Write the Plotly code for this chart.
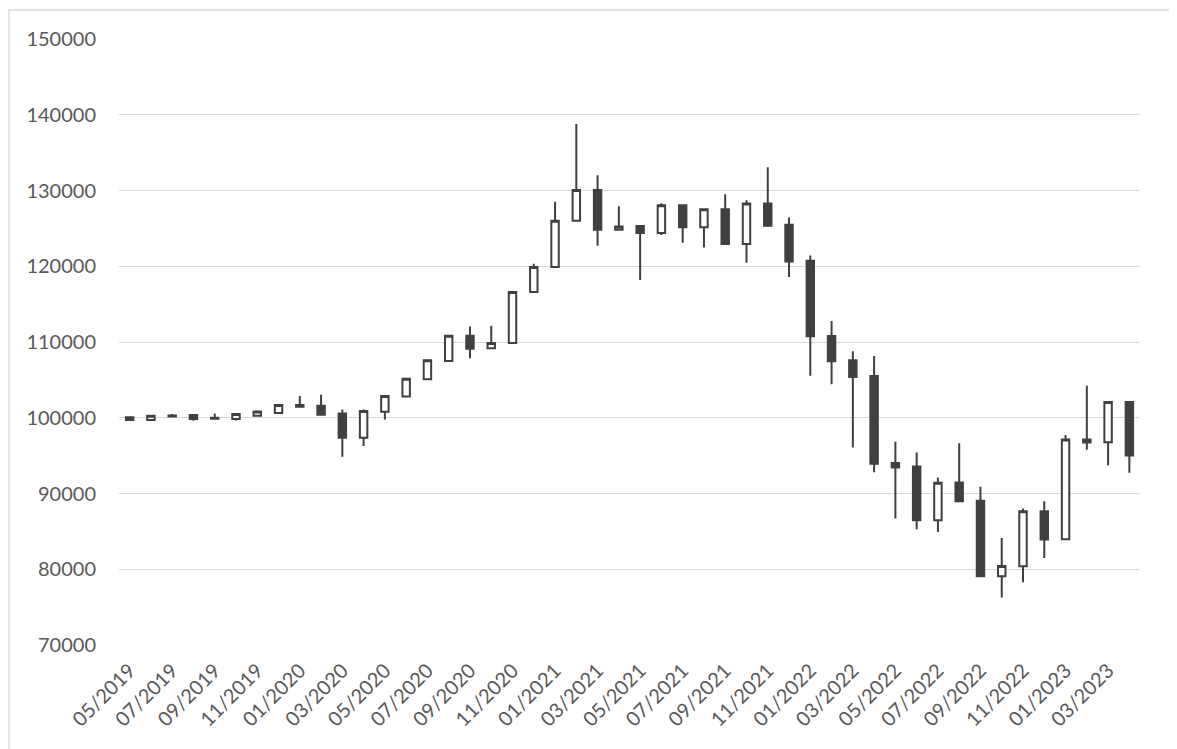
import plotly.graph_objects as go

months = [
    "05/2019", "06/2019", "07/2019", "08/2019", "09/2019", "10/2019", "11/2019", "12/2019",
    "01/2020", "02/2020", "03/2020", "04/2020", "05/2020", "06/2020", "07/2020", "08/2020",
    "09/2020", "10/2020", "11/2020", "12/2020", "01/2021", "02/2021", "03/2021", "04/2021",
    "05/2021", "06/2021", "07/2021", "08/2021", "09/2021", "10/2021", "11/2021", "12/2021",
    "01/2022", "02/2022", "03/2022", "04/2022", "05/2022", "06/2022", "07/2022", "08/2022",
    "09/2022", "10/2022", "11/2022", "12/2022", "01/2023", "02/2023", "03/2023", "04/2023",
]

open_ = [
    100050, 99700, 100300, 100350, 100000, 99820, 100260, 100620,
    101680, 101580, 100570, 97360, 100790, 102820, 105070, 107490,
    110840, 109160, 109870, 116600, 119890, 126020, 130080, 124830,
    125310, 124390, 128050, 125140, 127520, 122930, 128270, 125490,
    120730, 110800, 107590, 105520, 94010, 93570, 86480, 91450,
    89030, 79080, 80400, 87670, 83960, 97140, 96780, 102070,
]
high = [
    100050, 100260, 100500, 100350, 100570, 100480, 100840, 101680,
    102880, 103030, 101100, 101100, 102860, 105150, 107580, 110840,
    112030, 112160, 116600, 120330, 128530, 138770, 132020, 127920,
    125310, 128310, 128050, 127520, 129500, 128710, 133080, 126420,
    121430, 112780, 108780, 108160, 96830, 95420, 92110, 96650,
    90880, 84140, 88020, 88990, 97710, 104230, 102070, 102070,
]
low = [
    99700, 99700, 100150, 99600, 99880, 99640, 100260, 100530,
    101400, 100400, 94860, 96260, 99780, 102820, 105070, 107490,
    107840, 109160, 109870, 116600, 119800, 126020, 122710, 124700,
    118170, 124130, 123110, 122490, 122850, 120460, 125180, 118570,
    105560, 104420, 96060, 92820, 86700, 85290, 84930, 88990,
    79080, 76260, 78280, 81500, 83960, 95770, 93740, 92730,
]
close = [
    99700, 100260, 100150, 99820, 99880, 100480, 100840, 101680,
    101450, 100400, 97360, 100880, 102860, 105150, 107580, 110840,
    109120, 109870, 116600, 119890, 126020, 130080, 124830, 125250,
    124390, 128050, 125140, 127520, 122930, 128270, 125360, 120640,
    110760, 107470, 105390, 93920, 93440, 86480, 91410, 88990,
    79080, 80440, 87670, 83920, 97140, 96740, 102070, 95020,
]

tick_labels = months[::2]
y_ticks = [70000, 80000, 90000, 100000, 110000, 120000, 130000, 140000, 150000]

dark = "#404040"
text_color = "#595959"
grid_color = "#d9d9d9"

fig = go.Figure(
    go.Candlestick(
        x=months,
        open=open_,
        high=high,
        low=low,
        close=close,
        increasing=dict(line=dict(color=dark, width=2), fillcolor="#ffffff"),
        decreasing=dict(line=dict(color=dark, width=2), fillcolor=dark),
        whiskerwidth=0,
        showlegend=False,
        hoverinfo="x+y",
    )
)

# page offset (body margin) of 8px in the browser
OFF = 8
W, H = 1177, 749
L, R, T, B = 119 - OFF, 1140 - OFF, 39 - OFF, 645 - OFF
pw, ph = R - L, B - T

def px_x(v):
    return (v - OFF - L) / pw

def px_y(v):
    return (B - (v - OFF)) / ph

fig.add_shape(
    type="rect", xref="paper", yref="paper",
    x0=px_x(9), x1=px_x(1200), y0=px_y(780), y1=px_y(10),
    line=dict(color=grid_color, width=1.3), fillcolor="rgba(0,0,0,0)", layer="below",
)

fig.update_layout(
    width=W, height=H,
    margin=dict(l=L, r=W - R, t=T, b=H - B),
    paper_bgcolor="white", plot_bgcolor="white",
    font=dict(family="Lato, 'Open Sans', sans-serif", size=20, color=text_color),
    boxgap=0.5,
    xaxis=dict(
        type="category",
        categoryorder="array",
        categoryarray=months,
        tickmode="array",
        tickvals=tick_labels,
        ticktext=tick_labels,
        tickangle=-45,
        showgrid=False,
        showline=False,
        ticks="",
        rangeslider=dict(visible=False),
        ticklabelstandoff=9,
        tickfont=dict(size=20, color=text_color),
    ),
    yaxis=dict(
        range=[70000, 150000],
        tickmode="array",
        tickvals=y_ticks,
        ticktext=[str(v) for v in y_ticks],
        showgrid=True,
        gridcolor=grid_color,
        gridwidth=1.3,
        zeroline=False,
        showline=False,
        ticks="",
        ticklabelstandoff=22,
        tickfont=dict(size=20, color=text_color),
    ),
)

fig.write_html("out.html")
